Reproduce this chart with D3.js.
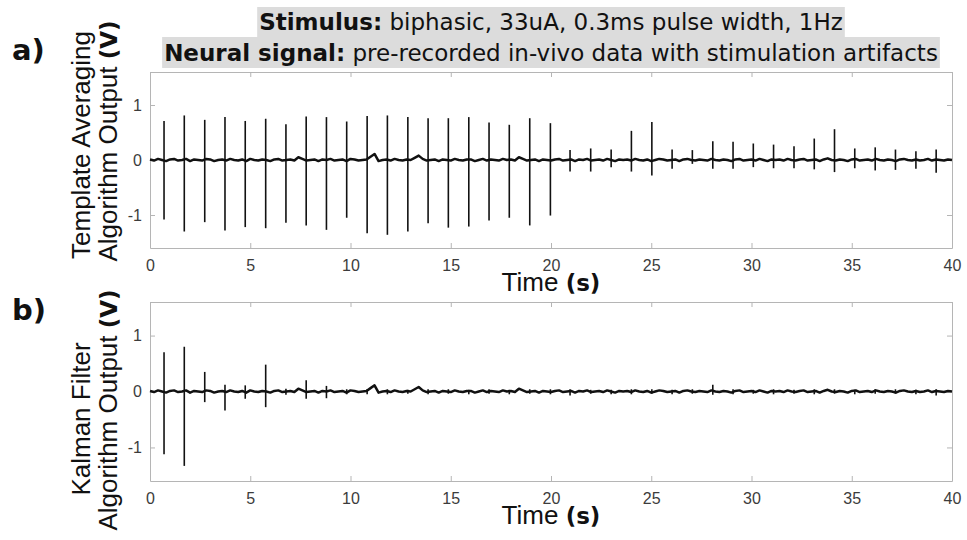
<!DOCTYPE html>
<html>
<head>
<meta charset="utf-8">
<script src="https://cdn.jsdelivr.net/npm/d3@7"></script>
<style>
  body { margin: 0; background: #fff; }
  svg { display: block; }
</style>
</head>
<body>
<svg id="chart" width="967" height="540"></svg>
<script>
// stimulation artifact times (s), one per pulse at ~1Hz
var spikeTimes = [0.70, 1.71, 2.73, 3.74, 4.75, 5.77, 6.78, 7.79, 8.80, 9.81,
    10.83, 11.84, 12.86, 13.87, 14.88, 15.90, 16.91, 17.92, 18.94, 19.97,
    20.95, 21.98, 23.00, 24.01, 25.03, 26.04, 27.05, 28.07, 29.08, 30.09,
    31.10, 32.12, 33.13, 34.14, 35.15, 36.17, 37.18, 38.20, 39.21];

// a) template averaging output: residual artifact peaks (V)
var templateTop = [0.71, 0.81, 0.73, 0.78, 0.71, 0.75, 0.65, 0.79, 0.78, 0.70,
    0.80, 0.81, 0.78, 0.76, 0.76, 0.78, 0.68, 0.64, 0.76, 0.67,
    0.18, 0.21, 0.19, 0.53, 0.69, 0.19, 0.18, 0.34, 0.33, 0.30,
    0.28, 0.25, 0.39, 0.56, 0.21, 0.23, 0.19, 0.16, 0.19];
var templateBottom = [-1.08, -1.30, -1.13, -1.28, -1.22, -1.24, -1.14, -1.19, -1.27, -1.05,
    -1.33, -1.36, -1.30, -1.15, -1.23, -1.21, -1.10, -1.05, -1.19, -1.01,
    -0.21, -0.21, -0.13, -0.21, -0.28, -0.16, -0.07, -0.16, -0.16, -0.13,
    -0.15, -0.15, -0.17, -0.22, -0.15, -0.19, -0.18, -0.16, -0.23];

// b) kalman filter output: residual artifact peaks (V)
var kalmanTop = [0.70, 0.80, 0.35, 0.12, 0.11, 0.48, 0.05, 0.20, 0.10, 0.04,
    0.04, 0.04, 0.03, 0.04, 0.04, 0.03, 0.04, 0.03, 0.04, 0.04,
    0.04, 0.03, 0.03, 0.04, 0.04, 0.03, 0.04, 0.12, 0.04, 0.03,
    0.04, 0.03, 0.04, 0.04, 0.03, 0.04, 0.04, 0.03, 0.04];
var kalmanBottom = [-1.12, -1.33, -0.19, -0.34, -0.13, -0.28, -0.06, -0.13, -0.12, -0.05,
    -0.05, -0.05, -0.04, -0.05, -0.04, -0.05, -0.04, -0.05, -0.04, -0.05,
    -0.07, -0.04, -0.05, -0.05, -0.04, -0.05, -0.04, -0.06, -0.05, -0.04,
    -0.05, -0.04, -0.05, -0.04, -0.05, -0.04, -0.04, -0.05, -0.07];

// background neural signal, sampled every 0.2 s (hundredths of a volt)
var noiseStep = 0.2;
var neuralNoise = [1, -1, 2, 0, -2, 1, 2, -1, 0, 2, -2, 1, 0, -1, 2, 1, -2, 0, 1, -1,
    2, 0, -1, 1, -2, 2, 0, -1, 1, 0, -2, 1, 2, -1, 0, 1, -1, 5, 2, -1,
    0, 1, -2, 1, 0, 2, -1, 0, 1, -2, 2, 1, -1, 0, 1, 6, 11, -2, 0, 1,
    -1, 2, 0, -1, 1, 0, 4, 8, 2, -1, 0, 1, -2, 1, 0, -1, 2, 0, -1, 1,
    1, -2, 0, 2, -1, 1, 0, -1, 2, 0, 1, -1, 5, 2, -1, 0, 1, -2, 1, 0,
    -1, 1, 2, -1, 0, 1, -2, 1, 0, 2, -1, 0, 1, -1, 2, 0, -2, 1, 0, 1,
    -1, 2, 0, -1, 1, -2, 0, 2, 1, -1, 0, 1, -2, 1, 2, 0, -1, 1, 0, -1,
    2, 0, -1, 1, 0, -2, 1, 2, -1, 0, 1, -1, 2, 0, -2, 1, 0, 1, -1, 2,
    0, -1, 1, 2, -1, 0, 1, -2, 1, 3, 0, -1, 1, 0, -2, 1, 2, -1, 0, 1,
    -1, 2, 0, -1, 1, 0, -2, 1, 2, 0, -1, 1, -1, 0, 2, -1, 1, 0, -1, 1,
    0];

var xTicks = [0, 5, 10, 15, 20, 25, 30, 35, 40];
var yTicks = [-1, 0, 1];

var svg = d3.select("#chart");
var left = 150, right = 952;

var x = d3.scaleLinear().domain([0, 40]).range([left, right]);

function drawPanel(cfg) {
    var y = d3.scaleLinear().domain([-1.6, 1.6]).range([cfg.bottom, cfg.top]);
    var g = svg.append("g");

    var fmt = function (d) { return d < 0 ? "-" + Math.abs(d) : String(d); };

    // MATLAB-like box with inward ticks on every side
    var axB = g.append("g")
        .attr("transform", "translate(0," + cfg.bottom + ")")
        .call(d3.axisBottom(x).tickValues(xTicks).tickSize(-5).tickSizeOuter(0).tickPadding(12).tickFormat(fmt));
    var axT = g.append("g")
        .attr("transform", "translate(0," + cfg.top + ")")
        .call(d3.axisTop(x).tickValues(xTicks).tickSize(-5).tickSizeOuter(0).tickFormat(""));
    var axL = g.append("g")
        .attr("transform", "translate(" + left + ",0)")
        .call(d3.axisLeft(y).tickValues(yTicks).tickSize(-5).tickSizeOuter(0).tickPadding(8).tickFormat(fmt));
    var axR = g.append("g")
        .attr("transform", "translate(" + right + ",0)")
        .call(d3.axisRight(y).tickValues(yTicks).tickSize(-5).tickSizeOuter(0).tickFormat(""));

    [axB, axT, axL, axR].forEach(function (a) {
        a.select(".domain").attr("stroke", "#b5b5b5");
        a.selectAll(".tick line").attr("stroke", "#b5b5b5");
        a.selectAll(".tick text")
            .attr("fill", "#3c3c3c")
            .style("font-family", "'Liberation Sans', Arial, sans-serif")
            .style("font-size", "16px");
    });

    // baseline neural trace
    var line = d3.line()
        .x(function (d, i) { return x(i * noiseStep); })
        .y(function (d) { return y(d / 100); });
    g.append("path")
        .datum(cfg.noise)
        .attr("d", line)
        .attr("fill", "none")
        .attr("stroke", "#111")
        .attr("stroke-width", 2.5)
        .attr("stroke-linejoin", "round");

    // residual stimulation artifacts
    g.selectAll(".spike")
        .data(spikeTimes)
        .enter().append("line")
        .attr("class", "spike")
        .attr("x1", function (d) { return x(d); })
        .attr("x2", function (d) { return x(d); })
        .attr("y1", function (d, i) { return y(cfg.hi[i]); })
        .attr("y2", function (d, i) { return y(cfg.lo[i]); })
        .attr("stroke", "#111")
        .attr("stroke-width", 1.6);

    // x label
    var xl = g.append("text")
        .attr("x", (left + right) / 2)
        .attr("y", cfg.bottom + 43)
        .attr("text-anchor", "middle")
        .attr("fill", "#111")
        .style("font-family", "'Liberation Sans', Arial, sans-serif")
        .style("font-size", "26px");
    xl.append("tspan").text("Time ");
    xl.append("tspan").style("font-family", "'DejaVu Sans', sans-serif")
        .style("font-weight", "bold").style("font-size", "23px").text("(s)");

    // y label, two lines
    cfg.ylabel.forEach(function (l, i) {
        var t = g.append("text")
            .attr("transform", "translate(" + (90 + i * 27) + "," + l.cy + ") rotate(-90)")
            .attr("text-anchor", "middle")
            .attr("fill", "#111")
            .style("font-family", "'Liberation Sans', Arial, sans-serif")
            .style("font-size", "26px");
        t.append("tspan").text(l.text);
        if (l.bold) {
            t.append("tspan").style("font-family", "'DejaVu Sans', sans-serif")
                .style("font-weight", "bold").style("font-size", "23px").text(l.bold);
        }
    });

    // panel letter
    svg.append("text")
        .attr("x", 12)
        .attr("y", cfg.letterY)
        .attr("fill", "#111")
        .style("font-family", "'DejaVu Sans', sans-serif")
        .style("font-weight", "bold")
        .style("font-size", "29px")
        .text(cfg.letter);
}

drawPanel({
    top: 72, bottom: 248, hi: templateTop, lo: templateBottom, noise: neuralNoise,
    letter: "a)", letterY: 60,
    ylabel: [{text: "Template Averaging", cy: 145}, {text: "Algorithm Output ", bold: "(V)", cy: 141}]
});
drawPanel({
    top: 302, bottom: 481, hi: kalmanTop, lo: kalmanBottom, noise: neuralNoise,
    letter: "b)", letterY: 320,
    ylabel: [{text: "Kalman Filter", cy: 419}, {text: "Algorithm Output ", bold: "(V)", cy: 410}]
});

// title with grey highlighted lines
var titleLines = [
    {bold: "Stimulus:", rest: " biphasic, 33uA, 0.3ms pulse width, 1Hz", y: 30, top: 7, h: 30},
    {bold: "Neural signal:", rest: " pre-recorded in-vivo data with stimulation artifacts", y: 61, top: 37, h: 31}
];
var tg = svg.append("g");
titleLines.forEach(function (l) {
    var bg = tg.append("rect").attr("fill", "#dcdcdc");
    var t = tg.append("text")
        .attr("x", (left + right) / 2)
        .attr("y", l.y)
        .attr("text-anchor", "middle")
        .attr("fill", "#111")
        .style("font-family", "'DejaVu Sans', sans-serif")
        .style("font-size", "23px");
    t.append("tspan").style("font-weight", "bold").text(l.bold);
    t.append("tspan").text(l.rest);
    var bb = t.node().getBBox();
    bg.attr("x", bb.x - 2).attr("y", l.top)
        .attr("width", bb.width + 4).attr("height", l.h);
});
</script>
</body>
</html>
